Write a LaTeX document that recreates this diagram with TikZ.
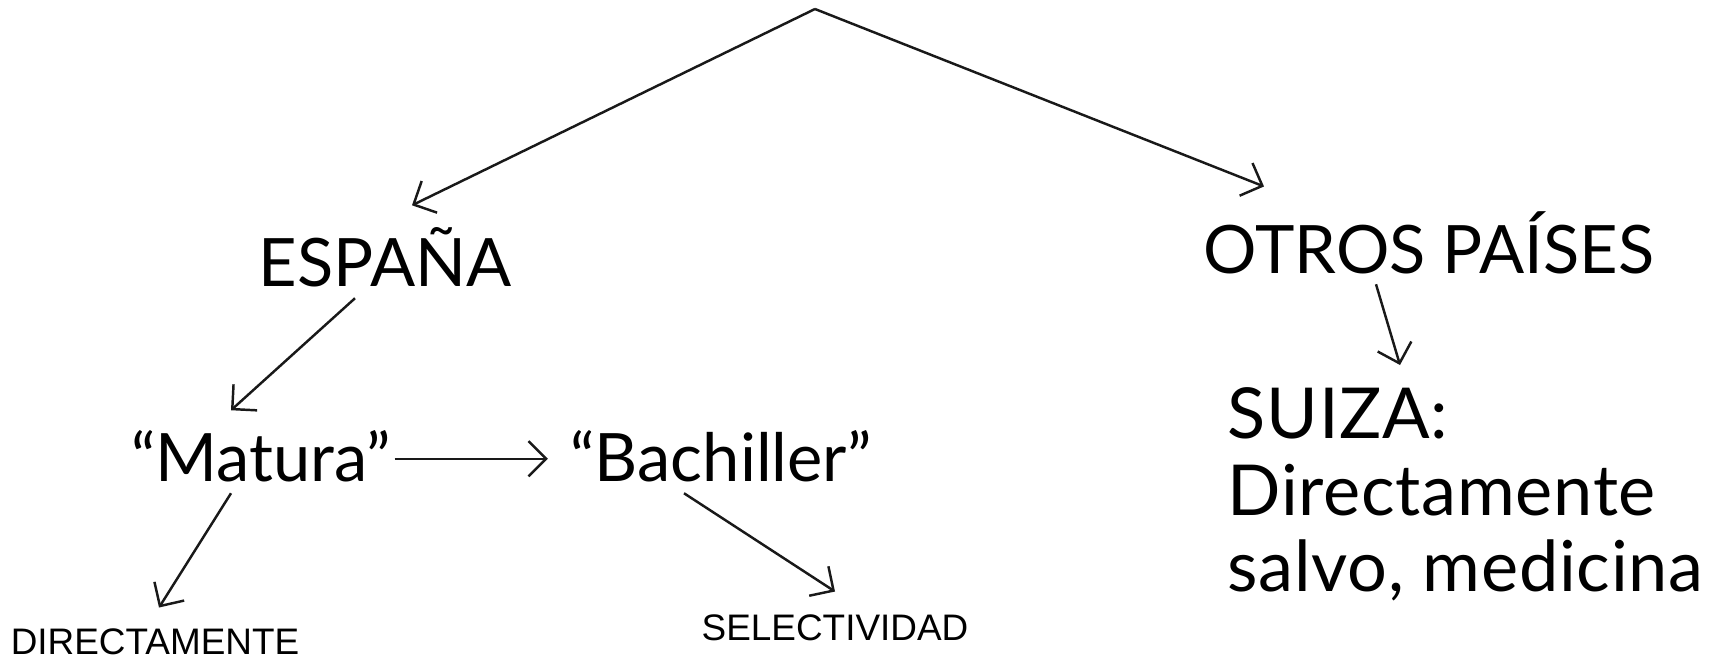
\documentclass[tikz,border=0pt]{standalone}
\usepackage{fontspec}
\setmainfont{Lato}
\newfontfamily\arialfont{Liberation Sans}
\usetikzlibrary{arrows.meta}

\begin{document}
\begin{tikzpicture}[
titulo/.style={inner sep=0pt, font=\fontsize{19}{23.6}\selectfont},
bloque/.style={inner sep=0pt, align=left,
 font=\fontsize{20}{21.8}\selectfont\addfontfeatures{LetterSpace=1}},
etiqueta/.style={inner sep=0pt, font=\arialfont\fontsize{10.5}{12}\selectfont},
flecha/.style={draw=black!90, line width=0.7pt, -{Straight Barb[length=5pt, width=10pt]}}]

\useasboundingbox (0, 0) rectangle (17.23, 6.57);

\coordinate (top) at (8.15, 6.48);

\node[titulo, anchor=base] (espana) at (3.85, 3.71) {ESPAÑA};
\node[titulo, anchor=base] (otros) at (14.29, 3.84) {OTROS PAÍSES};
\node[bloque, anchor=north west] (suiza) at (12.27, 2.70)
{SUIZA:\\Directamente\\salvo, medicina};

\node[titulo, anchor=base] (matura) at (2.61, 1.76) {“Matura”};
\node[titulo, anchor=base] (bachiller) at (7.21, 1.76) {“Bachiller”};

\node[etiqueta, anchor=base] (directo) at (1.55, 0.03) {DIRECTAMENTE};
\node[etiqueta, anchor=base] (selectividad) at (8.35, 0.17) {SELECTIVIDAD};

\draw[flecha] (top) -- ([xshift=0.27cm, yshift=0.21cm]espana.north);
\draw[flecha] (top) -- ([xshift=-1.65cm, yshift=0.24cm]otros.north);
\draw[flecha] ([xshift=-0.53cm, yshift=-0.10cm]otros.south)
 -- ([xshift=1.73cm, yshift=0.22cm]suiza.north west);

\draw[flecha] ([xshift=-0.30cm, yshift=-0.11cm]espana.south)
 -- ([xshift=-0.30cm, yshift=0.19cm]matura.north);
\draw[flecha] ([xshift=0.03cm, yshift=-0.03cm]matura.east)
 -- ([xshift=-0.22cm, yshift=-0.03cm]bachiller.west);
\draw[flecha] ([xshift=-0.30cm, yshift=-0.11cm]matura.south)
 -- ([xshift=0.04cm, yshift=0.20cm]directo.north);
\draw[flecha] ([xshift=-0.37cm, yshift=-0.11cm]bachiller.south)
 -- ([yshift=0.22cm]selectividad.north);

\end{tikzpicture}
\end{document}
